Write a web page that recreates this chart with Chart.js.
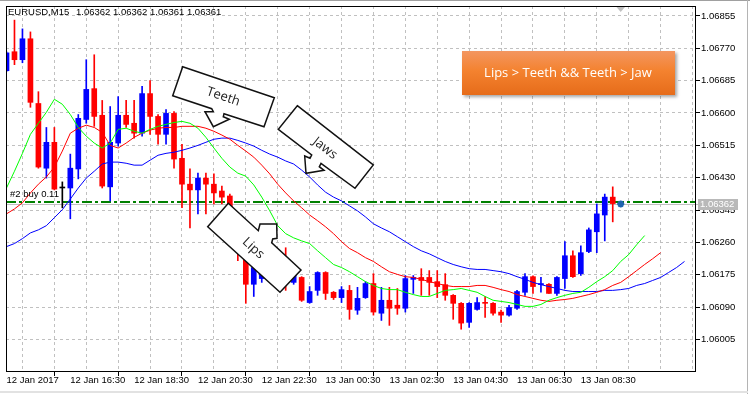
<!DOCTYPE html>
<html>
<head>
<meta charset="utf-8">
<script src="https://cdn.jsdelivr.net/npm/chart.js@4.4.1/dist/chart.umd.min.js"></script>
<style>
  html, body { margin: 0; padding: 0; background: #fff; }
  #wrap { width: 750px; height: 394px; position: relative; }
</style>
</head>
<body>
<div id="wrap"><canvas id="chart"></canvas></div>
<script>
// EURUSD M15 candles + Alligator (jaw / teeth / lips)
const symbolLabel = 'EURUSD,M15';
const lastBarOHLC = ['1.06362', '1.06362', '1.06361', '1.06361'];

const opens = [1.06711,1.06761,1.06740,1.06795,1.06625,1.06455,1.06523,1.06403,1.06403,1.06453,
  1.06583,1.06664,1.06594,1.06406,1.06521,1.06594,1.06573,1.06547,1.06651,1.06591,
  1.06544,1.06599,1.06481,1.06413,1.06398,1.06429,1.06413,1.06395,1.06382,1.06330,
  1.06225,1.06150,1.06165,1.06181,1.06217,1.06212,1.06155,1.06168,1.06102,1.06134,
  1.06181,1.06129,1.06115,1.06134,1.06082,1.06115,1.06152,1.06074,1.06108,1.06095,
  1.06087,1.06163,1.06168,1.06168,1.06157,1.06149,1.06121,1.06100,1.06050,1.06084,
  1.06102,1.06100,1.06077,1.06069,1.06087,1.06129,1.06170,1.06149,1.06150,1.06126,
  1.06165,1.06225,1.06178,1.06236,1.06288,1.06332,1.06379,1.06362];
const highs = [1.06761,1.06844,1.06821,1.06813,1.06656,1.06562,1.06562,1.06419,1.06492,1.06596,
  1.06740,1.06753,1.06633,1.06617,1.06643,1.06633,1.06633,1.06670,1.06685,1.06596,
  1.06609,1.06604,1.06518,1.06453,1.06442,1.06442,1.06440,1.06408,1.06387,1.06338,
  1.06251,1.06212,1.06225,1.06217,1.06233,1.06246,1.06199,1.06170,1.06144,1.06183,
  1.06183,1.06131,1.06144,1.06147,1.06142,1.06157,1.06178,1.06142,1.06142,1.06139,
  1.06173,1.06173,1.06191,1.06186,1.06186,1.06178,1.06123,1.06102,1.06102,1.06115,
  1.06118,1.06102,1.06082,1.06095,1.06134,1.06178,1.06172,1.06168,1.06152,1.06170,
  1.06262,1.06238,1.06251,1.06298,1.06361,1.06387,1.06406,1.06362];
const lows = [1.06709,1.06727,1.06732,1.06615,1.06455,1.06429,1.06398,1.06351,1.06322,1.06427,
  1.06573,1.06565,1.06403,1.06369,1.06513,1.06562,1.06534,1.06539,1.06544,1.06518,
  1.06518,1.06455,1.06351,1.06298,1.06335,1.06335,1.06361,1.06361,1.06251,1.06212,
  1.06100,1.06118,1.06155,1.06165,1.06147,1.06134,1.06150,1.06105,1.06100,1.06121,
  1.06110,1.06110,1.06102,1.06058,1.06071,1.06113,1.06069,1.06055,1.06042,1.06071,
  1.06077,1.06126,1.06121,1.06121,1.06115,1.06108,1.06058,1.06032,1.06037,1.06082,
  1.06063,1.06069,1.06050,1.06066,1.06084,1.06121,1.06126,1.06129,1.06126,1.06121,
  1.06139,1.06168,1.06173,1.06233,1.06233,1.06264,1.06314,1.06361];
const closes = [1.06758,1.06740,1.06795,1.06628,1.06458,1.06523,1.06400,1.06403,1.06455,1.06586,
  1.06662,1.06591,1.06408,1.06523,1.06594,1.06570,1.06547,1.06651,1.06591,1.06544,
  1.06599,1.06479,1.06413,1.06398,1.06429,1.06413,1.06390,1.06379,1.06351,1.06238,
  1.06150,1.06194,1.06207,1.06207,1.06173,1.06165,1.06191,1.06108,1.06131,1.06181,
  1.06126,1.06115,1.06136,1.06084,1.06113,1.06152,1.06077,1.06108,1.06087,1.06087,
  1.06165,1.06168,1.06160,1.06155,1.06144,1.06121,1.06100,1.06048,1.06100,1.06102,
  1.06100,1.06074,1.06069,1.06089,1.06131,1.06170,1.06144,1.06152,1.06126,1.06168,
  1.06225,1.06170,1.06233,1.06293,1.06335,1.06379,1.06362,1.06361];

// alligator lines (already shifted forward: jaw 8, teeth 5, lips 3 bars)
const jaw = [1.06249,1.06257,1.06270,1.06285,1.06293,1.06304,1.06325,1.06346,1.06374,1.06403,
  1.06429,1.06447,1.06466,1.06471,1.06471,1.06468,1.06463,1.06463,1.06476,1.06489,
  1.06494,1.06497,1.06502,1.06508,1.06515,1.06523,1.06531,1.06534,1.06534,1.06528,
  1.06521,1.06513,1.06502,1.06492,1.06484,1.06474,1.06466,1.06450,1.06432,1.06411,
  1.06392,1.06379,1.06369,1.06356,1.06343,1.06327,1.06309,1.06298,1.06288,1.06275,
  1.06262,1.06249,1.06238,1.06230,1.06220,1.06210,1.06202,1.06196,1.06191,1.06189,
  1.06189,1.06186,1.06183,1.06178,1.06170,1.06163,1.06155,1.06149,1.06144,1.06139,
  1.06134,1.06131,1.06131,1.06131,1.06131,1.06134,1.06134,1.06136,1.06139,1.06147,
  1.06152,1.06160,1.06168,1.06181,1.06194,1.06210];
const teeth = [1.06335,1.06348,1.06364,1.06390,1.06413,1.06432,1.06458,1.06500,1.06547,1.06560,
  1.06568,1.06562,1.06549,1.06515,1.06508,1.06521,1.06536,1.06547,1.06555,1.06560,
  1.06562,1.06562,1.06565,1.06565,1.06565,1.06560,1.06552,1.06542,1.06531,1.06515,
  1.06500,1.06484,1.06463,1.06440,1.06413,1.06390,1.06369,1.06351,1.06332,1.06317,
  1.06301,1.06283,1.06262,1.06244,1.06233,1.06220,1.06210,1.06196,1.06183,1.06176,
  1.06170,1.06168,1.06163,1.06157,1.06152,1.06147,1.06144,1.06144,1.06144,1.06147,
  1.06147,1.06142,1.06136,1.06131,1.06123,1.06118,1.06113,1.06108,1.06105,1.06108,
  1.06110,1.06113,1.06118,1.06123,1.06129,1.06136,1.06147,1.06155,1.06170,1.06186,
  1.06202,1.06217,1.06233];
const lips = [1.06403,1.06447,1.06494,1.06544,1.06573,1.06602,1.06636,1.06623,1.06596,1.06562,
  1.06539,1.06521,1.06508,1.06521,1.06557,1.06560,1.06552,1.06547,1.06557,1.06565,
  1.06570,1.06575,1.06578,1.06573,1.06560,1.06536,1.06508,1.06481,1.06458,1.06442,
  1.06434,1.06411,1.06379,1.06343,1.06304,1.06283,1.06272,1.06264,1.06257,1.06238,
  1.06220,1.06202,1.06194,1.06183,1.06170,1.06157,1.06147,1.06139,1.06136,1.06136,
  1.06129,1.06123,1.06118,1.06118,1.06126,1.06134,1.06136,1.06139,1.06134,1.06129,
  1.06118,1.06108,1.06105,1.06102,1.06097,1.06092,1.06092,1.06097,1.06108,1.06115,
  1.06121,1.06126,1.06129,1.06142,1.06157,1.06170,1.06186,1.06210,1.06228,1.06254,
  1.06278];

const priceTicks = [1.06855,1.06770,1.06685,1.06600,1.06515,1.06430,1.06345,1.06260,1.06175,1.06090,1.06005];
const timeBars = [0, 8, 16, 24, 32, 40, 48, 56, 64, 72];
const timeLabels = ['12 Jan 2017','12 Jan 16:30','12 Jan 18:30','12 Jan 20:30','12 Jan 22:30',
  '13 Jan 00:30','13 Jan 02:30','13 Jan 04:30','13 Jan 06:30','13 Jan 08:30'];
const gridBars = [0,4,8,12,16,20,24,28,32,36,40,44,48,52,56,60,64,68,72,76,80,84];

const bidPrice = 1.06362;
const orderPrice = 1.06367;
const orderLabel = '#2 buy 0.11';
const markerBar = [77];
const markerPrice = [1.06361];
const signalText = 'Lips > Teeth && Teeth > Jaw';

const bullColor = '#0000ff', bearColor = '#ff0000', dojiColor = '#000000';
const axisFont = { family: 'Liberation Sans', size: 9.5 };

const candleColors = opens.map((o, i) => closes[i] > o ? bullColor : (closes[i] < o ? bearColor : dojiColor));
const asPoints = arr => arr.map((v, i) => ({ x: i, y: v }));

function callout(ctx, pts, text, cx, cy, deg) {
  ctx.save();
  ctx.beginPath();
  pts.forEach(([x, y], k) => k ? ctx.lineTo(x, y) : ctx.moveTo(x, y));
  ctx.closePath();
  ctx.fillStyle = '#fff';
  ctx.fill();
  ctx.lineWidth = 1.5;
  ctx.strokeStyle = '#111';
  ctx.stroke();
  ctx.translate(cx, cy);
  ctx.rotate(deg * Math.PI / 180);
  ctx.font = '13px "Open Sans"';
  ctx.fillStyle = '#222';
  ctx.textAlign = 'center';
  ctx.textBaseline = 'middle';
  ctx.fillText(text, 0, 0);
  ctx.restore();
}

const decorations = {
  id: 'decorations',
  beforeDraw(chart) {
    const ctx = chart.ctx;
    ctx.save();
    ctx.fillStyle = '#fff';
    ctx.fillRect(0, 0, chart.width, chart.height);
    ctx.restore();
  },
  beforeDatasetsDraw(chart) {
    const { ctx, chartArea: a, scales: { y } } = chart;
    ctx.save();
    // bid line
    const by = Math.round(y.getPixelForValue(bidPrice)) + 0.5;
    ctx.strokeStyle = '#c0c0c0';
    ctx.lineWidth = 1;
    ctx.beginPath(); ctx.moveTo(a.left, by); ctx.lineTo(a.right + 4, by); ctx.stroke();
    // open order line
    const oy = Math.round(y.getPixelForValue(orderPrice));
    ctx.strokeStyle = '#008000';
    ctx.lineWidth = 2;
    ctx.setLineDash([10, 3, 3, 3]);
    ctx.beginPath(); ctx.moveTo(a.left, oy); ctx.lineTo(a.right, oy); ctx.stroke();
    ctx.restore();
  },
  afterDraw(chart) {
    const { ctx, chartArea: a, scales: { y } } = chart;
    ctx.save();
    // plot frame
    ctx.strokeStyle = '#000';
    ctx.lineWidth = 1;
    ctx.strokeRect(a.left + 0.5, a.top + 0.5, a.right - a.left, a.bottom - a.top);

    // window edges
    ctx.fillStyle = '#a0a0a0';
    ctx.fillRect(0, 0, chart.width, 1);
    ctx.fillStyle = '#b4b4b4';
    ctx.fillRect(747, 0, 1, chart.height);
    ctx.fillStyle = '#e2e2e2';
    ctx.fillRect(0, 391, 748, 2);

    // chart shift marker
    ctx.fillStyle = '#c0c0c0';
    ctx.beginPath(); ctx.moveTo(616.5, a.top + 1); ctx.lineTo(625, a.top + 1); ctx.lineTo(620.7, a.top + 6); ctx.closePath(); ctx.fill();

    // title + order label
    ctx.fillStyle = '#000';
    ctx.font = '9.5px "Liberation Sans"';
    ctx.textBaseline = 'alphabetic';
    ctx.fillText(symbolLabel, 8, 15);
    ctx.fillText(lastBarOHLC.join(' '), 76, 15);
    ctx.fillText(orderLabel, 10, 197);

    // bid price box on the axis
    const by = Math.round(y.getPixelForValue(bidPrice));
    ctx.fillStyle = '#b9b9b9';
    ctx.fillRect(698, by - 5, 40, 11);
    ctx.fillStyle = '#fff';
    ctx.textBaseline = 'middle';
    ctx.fillText(bidPrice.toFixed(5), 700, by + 0.5);

    // callouts
    callout(ctx, [[182.7,66.7],[274.3,97.7],[264,126.7],[224,113.7],[223.3,116.7],[229.3,119.3],
      [213.3,126.7],[205,111.7],[213.3,111.7],[211.7,108.7],[172.7,95.7]], 'Teeth', 223.3, 96.7, 18.7);
    callout(ctx, [[297.3,105.7],[373.3,165],[355,188.3],[321,163.3],[319.3,166.7],[324,170.3],
      [306,173.3],[304.7,156],[310,158.3],[311.7,155],[278.3,129.3]], 'Jaws', 325, 148.3, 38);
    callout(ctx, [[228.3,203.3],[258.3,230.7],[260,224],[276.7,224],[277,238.3],[272.7,239],
      [271.7,242.7],[301,270],[280,292.3],[207.7,226.7]], 'Lips', 253.3, 248.3, 42.5);

    // signal button
    ctx.save();
    ctx.shadowColor = 'rgba(0,0,0,0.35)';
    ctx.shadowOffsetX = 2;
    ctx.shadowOffsetY = 2;
    ctx.shadowBlur = 3;
    const g = ctx.createLinearGradient(0, 51, 0, 95);
    g.addColorStop(0, '#f39660');
    g.addColorStop(0.45, '#f4822f');
    g.addColorStop(1, '#e66c1a');
    ctx.fillStyle = g;
    ctx.fillRect(462, 51, 213, 44);
    ctx.restore();
    ctx.fillStyle = '#fff';
    ctx.font = '13px "Open Sans"';
    ctx.textAlign = 'center';
    ctx.textBaseline = 'middle';
    ctx.fillText(signalText, 568, 73);
    ctx.restore();
  }
};

new Chart(document.getElementById('chart'), {
  type: 'bar',
  data: {
    datasets: [
      { type: 'line', label: 'Lips', data: asPoints(lips), borderColor: '#00ff00', borderWidth: 1,
        pointRadius: 0, tension: 0, order: 0 },
      { type: 'line', label: 'Teeth', data: asPoints(teeth), borderColor: '#ff0000', borderWidth: 1,
        pointRadius: 0, tension: 0, order: 0 },
      { type: 'line', label: 'Jaw', data: asPoints(jaw), borderColor: '#0000ff', borderWidth: 1,
        pointRadius: 0, tension: 0, order: 0 },
      { type: 'scatter', label: 'trade', data: markerBar.map((b, k) => ({ x: b, y: markerPrice[k] })),
        pointStyle: 'star', pointRadius: 3.5, borderColor: '#1f64b0', borderWidth: 2, order: 0 },
      { label: 'body', data: opens.map((o, i) => ({ x: i, y: [o, closes[i]] })),
        backgroundColor: candleColors, barThickness: 5, minBarLength: 1, grouped: false, order: 1 },
      { label: 'wick', data: highs.map((h, i) => ({ x: i, y: [lows[i], h] })),
        backgroundColor: candleColors, barThickness: 1, minBarLength: 1, grouped: false, order: 2 }
    ]
  },
  options: {
    responsive: true,
    maintainAspectRatio: false,
    animation: false,
    events: [],
    layout: { padding: { left: 4, top: 4, right: 0, bottom: 0 } },
    plugins: { legend: { display: false }, tooltip: { enabled: false } },
    scales: {
      x: {
        type: 'linear',
        position: 'bottom',
        offset: false,
        min: -0.0625,
        max: 86.3125,
        border: { display: false, dash: [3, 3] },
        grid: {
          color: '#c0c0c0',
          tickLength: 5,
          tickBorderDash: [],
          tickColor: ctx => (ctx.tick && timeBars.includes(ctx.tick.value)) ? '#000' : 'rgba(0,0,0,0)'
        },
        afterBuildTicks: s => { s.ticks = gridBars.map(v => ({ value: v })); },
        afterFit: s => { s.height = 23; s.paddingLeft = 0; s.paddingRight = 0; },
        ticks: {
          autoSkip: false, maxRotation: 0, minRotation: 0, align: 'start', padding: -1,
          color: '#000', font: axisFont,
          callback: v => { const k = timeBars.indexOf(v); return k >= 0 ? timeLabels[k] : ''; }
        }
      },
      y: {
        type: 'linear',
        position: 'right',
        min: 1.059222,
        max: 1.068811,
        border: { display: false, dash: [3, 3] },
        grid: { color: '#c0c0c0', tickLength: 5, tickBorderDash: [], tickColor: '#000' },
        afterBuildTicks: s => { s.ticks = priceTicks.map(v => ({ value: v })); },
        afterFit: s => { s.width = 55; s.paddingTop = 0; s.paddingBottom = 0; },
        ticks: { padding: 1, color: '#000', font: axisFont, callback: v => v.toFixed(5) }
      }
    }
  },
  plugins: [decorations]
});
</script>
</body>
</html>
